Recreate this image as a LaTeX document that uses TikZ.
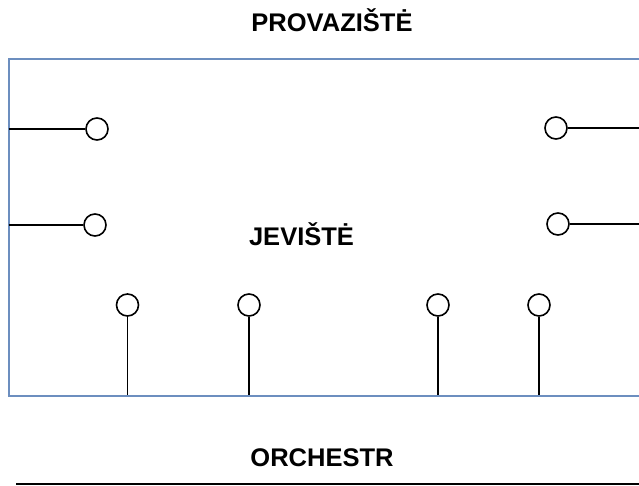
\documentclass[tikz,border=0pt]{standalone}
\usepackage{fontspec}
\setmainfont{Liberation Sans}
\definecolor{stageblue}{RGB}{108,142,191}
\begin{document}
\begin{tikzpicture}[x=1pt,y=-1pt,
  spot/.style={circle,draw=black,line width=1.6pt,minimum size=22pt,inner sep=0pt,fill=white},
  wire/.style={draw=black,line width=1.6pt},
  lbl/.style={font=\bfseries\fontsize{25.5}{28}\selectfont,anchor=base,inner sep=0pt}]
\useasboundingbox (0,0) rectangle (639,486);
\clip (0,0) rectangle (639,486);
\draw[stageblue,line width=2pt] (8.5,59.5) rectangle (660,396);
\node[lbl] (prov) at (332,32) {PROVAZIŠTĖ};
\node[lbl] (jev) at (301.5,245) {JEVIŠTĖ};
\node[lbl] (orch) at (322,466) {ORCHESTR};
% side spots
\node[spot] (l1) at (97,129) {};
\node[spot] (l2) at (95,225) {};
\node[spot] (r1) at (556,128) {};
\node[spot] (r2) at (558,224) {};
\coordinate (l1e) at (8.5,129);
\coordinate (l2e) at (8.5,225);
\coordinate (r1e) at (645,128);
\coordinate (r2e) at (645,224);
\draw[wire] (l1e) -- (l1);
\draw[wire] (l2e) -- (l2);
\draw[wire] (r1) -- (r1e);
\draw[wire] (r2) -- (r2e);
% bottom spots
\node[spot] (b1) at (127.5,305) {};
\node[spot] (b2) at (249,305) {};
\node[spot] (b3) at (438,305) {};
\node[spot] (b4) at (539,305) {};
\foreach \n in {b1,b2,b3,b4}{
  \coordinate (\n e) at (\n.south |- 0,395);
  \draw[wire] (\n) -- (\n e);
}
% orchestra line
\coordinate (oa) at (16,484);
\coordinate (ob) at (645,484);
\draw[wire] (oa) -- (ob);
\end{tikzpicture}
\end{document}
